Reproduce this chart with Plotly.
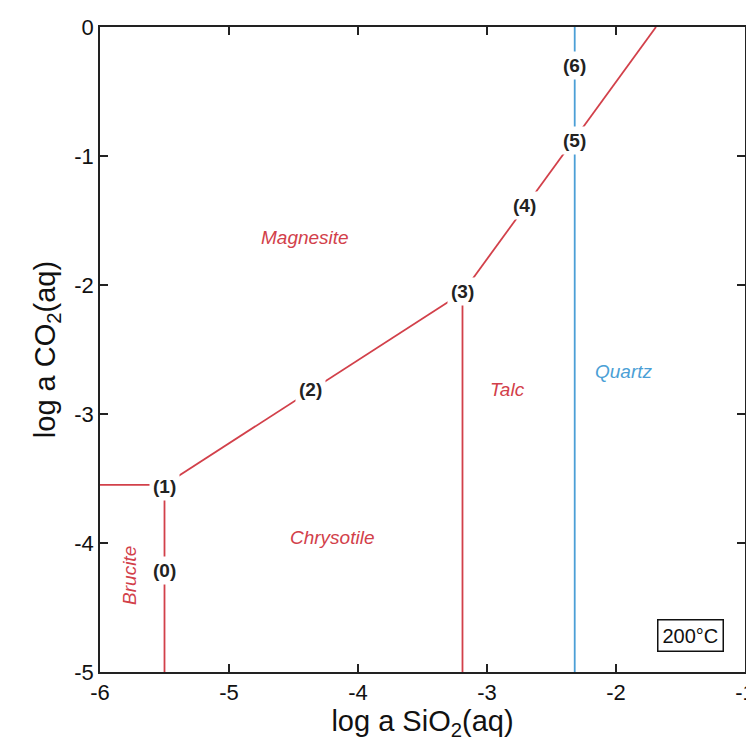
import plotly.graph_objects as go

# Phase boundaries (log a SiO2, log a CO2)
brucite_chrys_x = [-5.5, -5.5]
brucite_chrys_y = [-5.0, -3.55]
brucite_mag_x = [-6.0, -5.5]
brucite_mag_y = [-3.55, -3.55]
chrys_mag_x = [-5.5, -3.19]
chrys_mag_y = [-3.55, -2.06]
talc_mag_x = [-3.19, -1.69]
talc_mag_y = [-2.06, 0.0]
chrys_talc_x = [-3.19, -3.19]
chrys_talc_y = [-5.0, -2.06]
quartz_x = [-2.32, -2.32]
quartz_y = [-5.0, 0.0]

# Tick values / labels
x_ticks = [-6, -5, -4, -3, -2, -1]
x_ticktext = ["-6", "-5", "-4", "-3", "-2", "-1"]
y_ticks = [-5, -4, -3, -2, -1, 0]
y_ticktext = ["-5", "-4", "-3", "-2", "-1", "0"]

# Reaction labels
rxn_labels = ["(0)", "(1)", "(2)", "(3)", "(4)", "(5)", "(6)"]
rxn_x = [-5.5, -5.5, -4.37, -3.19, -2.71, -2.32, -2.32]
rxn_y = [-4.21, -3.56, -2.81, -2.05, -1.38, -0.88, -0.30]

# Field labels
field_names = ["Magnesite", "Talc", "Chrysotile"]
field_x = [-4.41, -2.84, -4.2]
field_y = [-1.63, -2.81, -3.96]

RED = "#d2404a"
BLUE = "#4b9fd6"

fig = go.Figure()
for xs, ys, c in [
    (brucite_chrys_x, brucite_chrys_y, RED),
    (brucite_mag_x, brucite_mag_y, RED),
    (chrys_mag_x, chrys_mag_y, RED),
    (talc_mag_x, talc_mag_y, RED),
    (chrys_talc_x, chrys_talc_y, RED),
    (quartz_x, quartz_y, BLUE),
]:
    fig.add_trace(go.Scatter(x=xs, y=ys, mode="lines",
                             line=dict(color=c, width=1.8),
                             showlegend=False, hoverinfo="skip"))

for t, x, y in zip(rxn_labels, rxn_x, rxn_y):
    fig.add_annotation(x=x, y=y, text="<b>" + t + "</b>", showarrow=False,
                       font=dict(size=19, color="#222222"),
                       bgcolor="white", borderpad=3)

for t, x, y in zip(field_names, field_x, field_y):
    fig.add_annotation(x=x, y=y, text="<i>" + t + "</i>", showarrow=False,
                       font=dict(size=19, color=RED))

fig.add_annotation(x=-1.94, y=-2.67, text="<i>Quartz</i>", showarrow=False,
                   font=dict(size=19, color=BLUE))
fig.add_annotation(x=-5.77, y=-4.25, text="<i>Brucite</i>", showarrow=False,
                   textangle=-90, font=dict(size=19, color=RED))
fig.add_annotation(x=-1.42, y=-4.72, text="200°C", showarrow=False,
                   font=dict(size=20, color="#111111"),
                   bordercolor="#111111", borderwidth=1.5, borderpad=4,
                   bgcolor="white")

axis_common = dict(
    showgrid=False, zeroline=False, showline=True, mirror="allticks",
    linecolor="#222222", linewidth=1.8, ticks="inside", ticklen=8,
    tickwidth=1.5, tickcolor="#222222", automargin=False,
    ticklabeloverflow="allow",
    tickfont=dict(size=22, color="#111111"),
)

fig.update_layout(
    width=746, height=741,
    margin=dict(l=92, r=9, t=19, b=77),
    paper_bgcolor="white", plot_bgcolor="white",
    font=dict(family="Liberation Sans, Arial, sans-serif"),
    xaxis=dict(range=[-6, -1], tickvals=x_ticks, ticktext=x_ticktext,
               title=dict(text="log a SiO<sub>2</sub>(aq)",
                          font=dict(size=29, color="#111111"), standoff=4),
               **axis_common),
    yaxis=dict(range=[-5, 0], tickvals=y_ticks, ticktext=y_ticktext,
               title=dict(text="log a CO<sub>2</sub>(aq)",
                          font=dict(size=29, color="#111111"), standoff=10),
               **axis_common),
)

fig.write_html("out.html")
